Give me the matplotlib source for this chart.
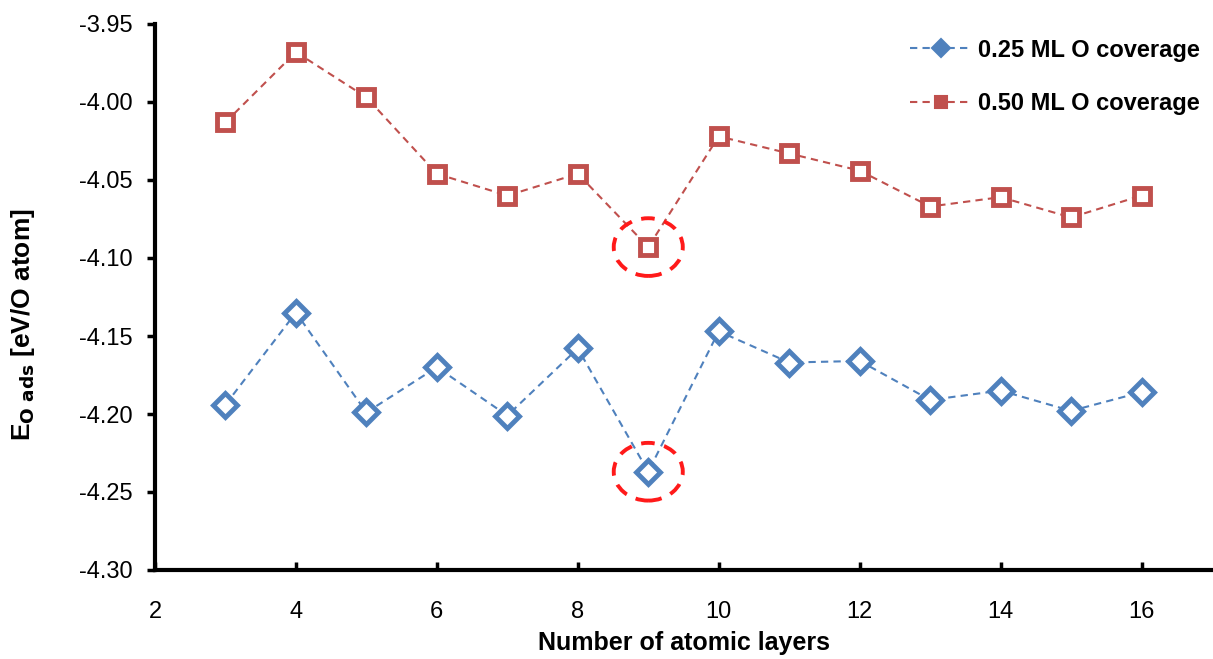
import matplotlib.pyplot as plt
from matplotlib.patches import Ellipse

plt.rcParams['font.family'] = ['Liberation Sans', 'DejaVu Sans']

layers = [3, 4, 5, 6, 7, 8, 9, 10, 11, 12, 13, 14, 15, 16]
cov_025 = [-4.194, -4.135, -4.199, -4.170, -4.201, -4.158, -4.237, -4.147,
           -4.167, -4.166, -4.191, -4.185, -4.198, -4.186]
cov_050 = [-4.013, -3.968, -3.997, -4.046, -4.060, -4.046, -4.093, -4.022,
           -4.033, -4.044, -4.067, -4.061, -4.074, -4.060]
labels = ['0.25 ML O coverage', '0.50 ML O coverage']
highlight = 9

blue = '#4F81BD'
red = '#C0504D'

fig = plt.figure(figsize=(12.13, 6.59), dpi=100)
ax = fig.add_axes([155 / 1213, 1 - 570 / 659, (1212 - 155) / 1213, (570 - 24) / 659])

ax.plot(layers, cov_025, ls='--', lw=1.5, color=blue, marker='D', ms=12,
        mfc='white', mec=blue, mew=3.5, label=labels[0], dashes=(3.5, 2.5))
ax.plot(layers, cov_050, ls='--', lw=1.5, color=red, marker='s', ms=12,
        mfc='white', mec=red, mew=3.5, label=labels[1], dashes=(3.5, 2.5))

# dashed circles around the outliers
i = layers.index(highlight)
for y in (cov_025[i], cov_050[i]):
    ax.add_patch(Ellipse((highlight, y), 0.98, 0.037, fill=False, ec='#FF1A1A',
                         lw=2.8, ls=(0, (3.5, 2.5)), zorder=3))

ax.set_xlim(2, 17)
ax.set_ylim(-4.30, -3.95)
ax.set_xticks(range(2, 17, 2))
ax.set_yticks([-4.30, -4.25, -4.20, -4.15, -4.10, -4.05, -4.00, -3.95])
ax.yaxis.set_major_formatter(plt.FormatStrFormatter('%.2f'))
ax.tick_params(axis='y', direction='out', length=6, width=2.5, labelsize=17, pad=10)
ax.tick_params(axis='x', direction='in', length=6, width=2.5, labelsize=17, pad=22)
for s in ('top', 'right'):
    ax.spines[s].set_visible(False)
for s in ('left', 'bottom'):
    ax.spines[s].set_linewidth(3)

ax.set_xlabel('Number of atomic layers', fontsize=18, fontweight='bold', labelpad=6)
ax.set_ylabel(r'E$_{\mathbf{O\ ads}}$ [eV/O atom]', fontsize=19, fontweight='bold')
ax.yaxis.set_label_coords(-0.112, 0.449)

leg = ax.legend(loc='upper right', frameon=False, prop={'weight': 'bold', 'size': 17},
                markerscale=0.75, handlelength=2.6, handletextpad=0.3, labelspacing=1.3,
                bbox_to_anchor=(1.0, 0.995), borderaxespad=0.1)
for h in leg.get_lines():
    h.set_markerfacecolor(h.get_color())
    h.set_markeredgewidth(1.5)

fig.savefig('out.png', dpi=100)
